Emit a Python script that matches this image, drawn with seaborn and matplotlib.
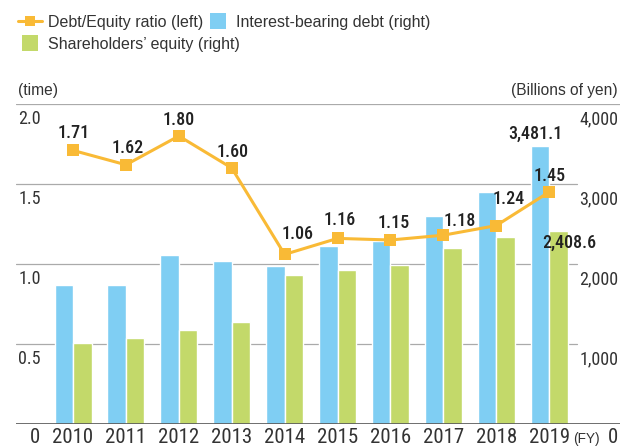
import numpy as np
import pandas as pd
import matplotlib
matplotlib.use("Agg")
import matplotlib.pyplot as plt
from matplotlib.lines import Line2D
import seaborn as sns

# ─── data ────────────────────────────────────────────────────────────────────
years = ["2010", "2011", "2012", "2013", "2014", "2015", "2016", "2017", "2018", "2019"]
de_ratio = [1.71, 1.62, 1.80, 1.60, 1.06, 1.16, 1.15, 1.18, 1.24, 1.45]
debt = [1740, 1740, 2110, 2040, 1975, 2230, 2290, 2600, 2900, 3481.1]
equity = [1010, 1075, 1175, 1275, 1865, 1925, 1990, 2200, 2340, 2408.6]
left_ticks = [0.5, 1.0, 1.5, 2.0]
right_ticks = [1000, 2000, 3000, 4000]

# ─── style ───────────────────────────────────────────────────────────────────
ORANGE = "#F9BA36"
BLUE = "#7FCEF3"
GREEN = "#C3D96A"
TXT = "#333333"
REG = ["Liberation Sans", "DejaVu Sans"]
sns.set_style("white")
plt.rcParams["font.family"] = ["Roboto Condensed", "DejaVu Sans"]
plt.rcParams["text.color"] = TXT

PX = 0.72  # points per pixel at dpi 100

df = pd.DataFrame({
    "year": years * 2,
    "series": ["debt"] * len(years) + ["equity"] * len(years),
    "value": debt + equity,
})

fig = plt.figure(figsize=(6.24, 4.46), dpi=100)
ax = fig.add_axes([16 / 624, 22 / 446, 604 / 624, 320 / 446])

sns.barplot(data=df, x="year", y="value", hue="series", ax=ax,
            palette={"debt": BLUE, "equity": GREEN}, width=0.7, saturation=1,
            edgecolor="white", linewidth=1.0, legend=False, zorder=2)
ax.set_ylim(0, 4000)
ax.set_xlim(-1.078, 10.34)
ax.set_xlabel("")
ax.set_ylabel("")
ax.set_yticks([])
for s in ax.spines.values():
    s.set_visible(False)
ax.tick_params(axis="x", length=0, pad=3, labelsize=15, labelcolor=TXT)

# gridlines (inner ones stop short of the right labels)
for v in right_ticks[:-1]:
    ax.axhline(v, xmin=0, xmax=(577 - 16) / 604, color="#AAAAAA", lw=0.9, zorder=0.5)
ax.axhline(right_ticks[-1], color="#AAAAAA", lw=0.9, zorder=0.5)
ax.axhline(0, color="#555555", lw=1.2, zorder=3)

# right axis labels
for v in right_ticks:
    ax.annotate(f"{v:,}", xy=(0.997, v), xycoords=ax.get_yaxis_transform(),
                xytext=(0, -4.5), textcoords="offset points", ha="right", va="top",
                fontsize=13, color=TXT)
ax.annotate("0", xy=(0.997, 0), xycoords=ax.get_yaxis_transform(),
            xytext=(0, -3), textcoords="offset points", ha="right", va="top",
            fontsize=15, color=TXT)
ax.annotate("(FY)", xy=(0.945, 0), xycoords=ax.get_yaxis_transform(),
            xytext=(0, -5.5), textcoords="offset points", ha="center", va="top",
            fontsize=9.8, color=TXT, family=REG)

# bar value labels for 2019
blue_bar = ax.containers[0][-1]
green_bar = ax.containers[1][-1]
ax.annotate(f"{debt[-1]:,.1f}", xy=(blue_bar.get_x() + blue_bar.get_width() / 2, blue_bar.get_height()),
            xytext=(-4 * PX, 7 * PX), textcoords="offset points", ha="center", va="baseline",
            fontsize=13, fontweight="medium", color="#222222", zorder=6)
ax.annotate(f"{equity[-1]:,.1f}", xy=(green_bar.get_x() + green_bar.get_width() / 2, green_bar.get_height()),
            xytext=(11 * PX, -17 * PX), textcoords="offset points", ha="center", va="baseline",
            fontsize=13, fontweight="medium", color="#222222", zorder=6)

# ─── ratio line on the left scale ───────────────────────────────────────────
ax2 = ax.twinx()
pos = np.arange(len(years))
sns.lineplot(x=pos, y=de_ratio, ax=ax2, color=ORANGE, linewidth=2.2,
             marker="s", markersize=9, markeredgewidth=0, legend=False, zorder=5)
ax2.set_ylim(0, 2.0)
ax2.set_xlim(-1.078, 10.34)
ax2.set_yticks([])
for s in ax2.spines.values():
    s.set_visible(False)

label_off = [(1, 12), (2, 12), (0, 11), (1, 11), (13, 15),
             (2, 13), (3, 12), (16, 9), (12, 22), (1, 11)]
for i, (r, (dx, dy)) in enumerate(zip(de_ratio, label_off)):
    ax2.annotate(f"{r:.2f}", xy=(i, r), xytext=(dx * PX, dy * PX), textcoords="offset points",
                 ha="center", va="baseline", fontsize=13, fontweight="medium", color="#222222")

for v in left_ticks:
    ax2.annotate(f"{v:.1f}", xy=(0.004, v), xycoords=ax2.get_yaxis_transform(),
                 xytext=(0, -4.5), textcoords="offset points", ha="left", va="top",
                 fontsize=13, color=TXT)
ax2.annotate("0", xy=(0.031, 0), xycoords=ax2.get_yaxis_transform(),
             xytext=(0, -3), textcoords="offset points", ha="center", va="top",
             fontsize=15, color=TXT)

# unit labels
fig.text(18 / 624, 1 - 90 / 446, "(time)", ha="left", va="center", fontsize=11.2, family=REG)
fig.text(618 / 624, 1 - 90 / 446, "(Billions of yen)", ha="right", va="center", fontsize=11.2, family=REG)

# ─── legend (two rows) ───────────────────────────────────────────────────────
h_line = Line2D([], [], color=ORANGE, lw=2.2, marker="s", markersize=7, markeredgewidth=0)
h_blue = Line2D([], [], color=BLUE, lw=0, marker="s", markersize=11.5, markeredgewidth=0)
h_green = Line2D([], [], color=GREEN, lw=0, marker="s", markersize=11.5, markeredgewidth=0)
leg_kw = dict(frameon=False, loc="center left", borderpad=0, borderaxespad=0,
              handlelength=1.5, handletextpad=0.35, columnspacing=0.2,
              prop={"family": REG, "size": 11.5})
leg1 = fig.legend([h_line, h_blue], ["Debt/Equity ratio (left)", "Interest-bearing debt (right)"],
                  ncol=2, bbox_to_anchor=(18 / 624, 1 - 22 / 446), **leg_kw)
leg2 = fig.legend([h_green], ["Shareholders\u2019 equity (right)"],
                  bbox_to_anchor=(18 / 624, 1 - 44 / 446), **leg_kw)
for leg in (leg1, leg2):
    for t in leg.get_texts():
        t.set_color(TXT)

fig.savefig("out.png", dpi=100)
